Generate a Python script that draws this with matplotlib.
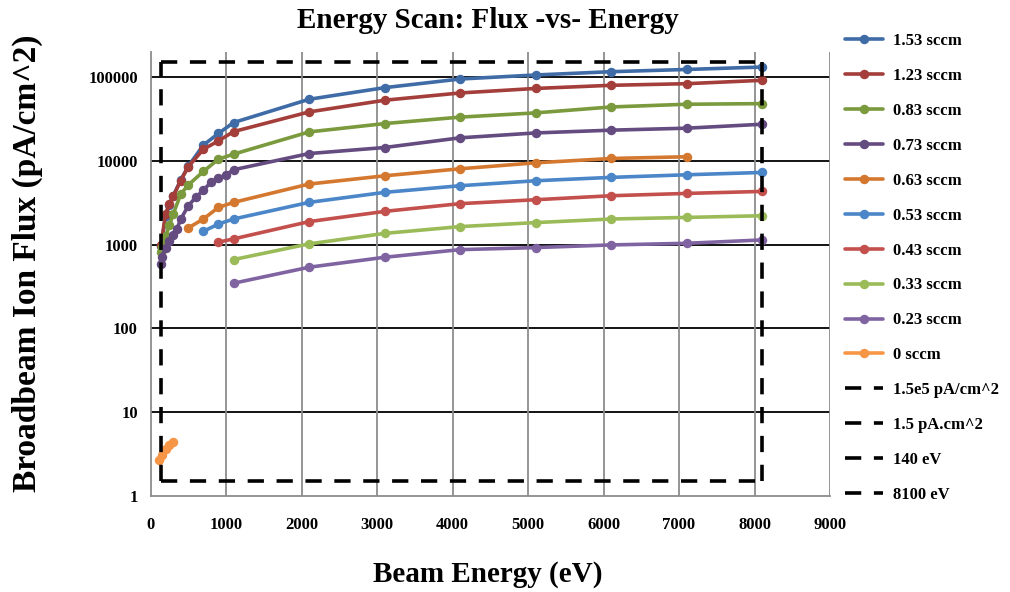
"""Energy scan: broadbeam ion flux vs beam energy for several gas flows."""

import matplotlib
matplotlib.use("Agg")
import matplotlib.pyplot as plt
from matplotlib.lines import Line2D

plt.rcParams["font.family"] = ["Liberation Serif", "DejaVu Serif"]
plt.rcParams["font.weight"] = "bold"

# ---------------------------------------------------------------------------
# Data
# ---------------------------------------------------------------------------
series_names = [
    "1.53 sccm", "1.23 sccm", "0.83 sccm", "0.73 sccm", "0.63 sccm",
    "0.53 sccm", "0.43 sccm", "0.33 sccm", "0.23 sccm", "0 sccm",
]

hi_e = [2100, 3100, 4100, 5100, 6100, 7100, 8100]

energy_153 = [140, 200, 250, 300, 400, 500, 700, 900, 1100] + hi_e
flux_153 = [950, 2200, 3000, 3800, 5900, 8600, 15400, 21200, 28600,
            54200, 74600, 94600, 105700, 115700, 123000, 131500]

energy_123 = [140, 200, 250, 300, 400, 500, 700, 900, 1100] + hi_e
flux_123 = [1000, 2330, 3050, 3760, 5800, 8490, 13700, 17300, 22300,
            38300, 52800, 64500, 73000, 79600, 83200, 91300]

energy_083 = [140, 150, 200, 250, 300, 400, 500, 700, 900, 1100] + hi_e
flux_083 = [820, 930, 1250, 1700, 2300, 4000, 5140, 7460, 10470, 12000,
            22100, 27800, 33200, 37300, 43900, 47300, 48100]

energy_073 = [140, 150, 200, 250, 300, 350, 400, 500, 600, 700, 800, 900,
              1000, 1100] + hi_e
flux_073 = [580, 720, 900, 1110, 1300, 1550, 2000, 2910, 3660, 4470, 5520,
            6160, 6810, 7820, 12200, 14400, 18800, 21500, 23200, 24500, 27300]

energy_063 = [500, 700, 900, 1100, 2100, 3100, 4100, 5100, 6100, 7100]
flux_063 = [1580, 2020, 2780, 3190, 5280, 6620, 8030, 9460, 10660, 11170]

energy_053 = [700, 900, 1100] + hi_e
flux_053 = [1440, 1760, 2020, 3190, 4200, 5040, 5780, 6340, 6810, 7260]

energy_043 = [900, 1100] + hi_e
flux_043 = [1070, 1170, 1880, 2490, 3080, 3430, 3830, 4080, 4310]

energy_033 = [1100] + hi_e
flux_033 = [663, 1020, 1360, 1640, 1830, 2020, 2110, 2210]

energy_023 = [1100] + hi_e
flux_023 = [346, 537, 706, 871, 921, 991, 1036, 1137]

energy_000 = [110, 150, 200, 250, 300]
flux_000 = [2.7, 3.1, 3.6, 4.1, 4.4]

energies = [energy_153, energy_123, energy_083, energy_073, energy_063,
            energy_053, energy_043, energy_033, energy_023, energy_000]
fluxes = [flux_153, flux_123, flux_083, flux_073, flux_063,
          flux_053, flux_043, flux_033, flux_023, flux_000]

colors = ["#3F6CA6", "#A43E3B", "#7A9A3D", "#644B80", "#D5782F",
          "#4A86C8", "#C4504D", "#9BBB59", "#8064A2", "#F79646"]

# reference box: flux limits and energy limits
ref_flux_hi = 1.5e5
ref_flux_lo = 1.5
ref_e_lo = 140
ref_e_hi = 8100
ref_labels = ["1.5e5 pA/cm^2", "1.5 pA.cm^2", "140 eV", "8100 eV"]

# ---------------------------------------------------------------------------
W, H = 1010, 592
fig = plt.figure(figsize=(W / 100, H / 100), dpi=100)
ax = fig.add_axes([150.5 / W, 1 - 496 / H, (830 - 150.5) / W, (496 - 52) / H])

ax.set_yscale("log")
ax.set_xlim(0, 9000)
ax.set_ylim(1, 10 ** ((496 - 52) / 83.8))

# grid
for v in [10, 100, 1000, 10000, 100000]:
    ax.axhline(v, color="black", linewidth=1.3, zorder=1)
for v in range(1000, 9001, 1000):
    ax.axvline(v, color="#8C8C8C", linewidth=1.3, zorder=1)

for side in ["top", "right"]:
    ax.spines[side].set_visible(False)
for side in ["left", "bottom"]:
    ax.spines[side].set_color("#8C8C8C")
    ax.spines[side].set_linewidth(1.3)

handles = []
for name, e, f, c in zip(series_names, energies, fluxes, colors):
    (ln,) = ax.plot(e, f, color=c, linewidth=2.6, marker="o", markersize=5.8,
                    solid_capstyle="round", zorder=3, label=name)
    handles.append(ln)

dash_kw = dict(color="black", linewidth=2.6, linestyle=(0, (4.5, 3.5)), zorder=4)
ax.plot([ref_e_lo, ref_e_hi], [ref_flux_hi, ref_flux_hi], **dash_kw)
ax.plot([ref_e_lo, ref_e_hi], [ref_flux_lo, ref_flux_lo], **dash_kw)
ax.plot([ref_e_lo, ref_e_lo], [ref_flux_lo, ref_flux_hi], **dash_kw)
ax.plot([ref_e_hi, ref_e_hi], [ref_flux_lo, ref_flux_hi], **dash_kw)
for lab in ref_labels:
    handles.append(Line2D([], [], label=lab, **dash_kw))

ax.set_xticks(range(0, 9001, 1000))
ax.set_yticks([1, 10, 100, 1000, 10000, 100000])
ax.set_yticklabels(["1", "10", "100", "1000", "10000", "100000"])
ax.minorticks_off()
ax.tick_params(axis="both", length=0, labelsize=12)
ax.tick_params(axis="x", pad=15)
ax.tick_params(axis="y", pad=9)

fig.text(488 / W, 1 - 21 / H, "Energy Scan: Flux -vs- Energy",
         ha="center", va="center", fontsize=21, fontweight="bold")
fig.text(488 / W, 1 - 575 / H, "Beam Energy (eV)",
         ha="center", va="center", fontsize=21, fontweight="bold")
fig.text(27 / W, 1 - 263 / H, "Broadbeam Ion Flux (pA/cm^2)", rotation=90,
         ha="center", va="center", fontsize=24, fontweight="bold")

fig.legend(handles=handles, loc="upper left",
           bbox_to_anchor=(845 / W, 1 - 33 / H), frameon=False,
           borderpad=0, borderaxespad=0, handlelength=2.3, handletextpad=0.6,
           labelspacing=1.135, prop={"size": 12, "weight": "bold"})

fig.savefig("out.png", dpi=100)
